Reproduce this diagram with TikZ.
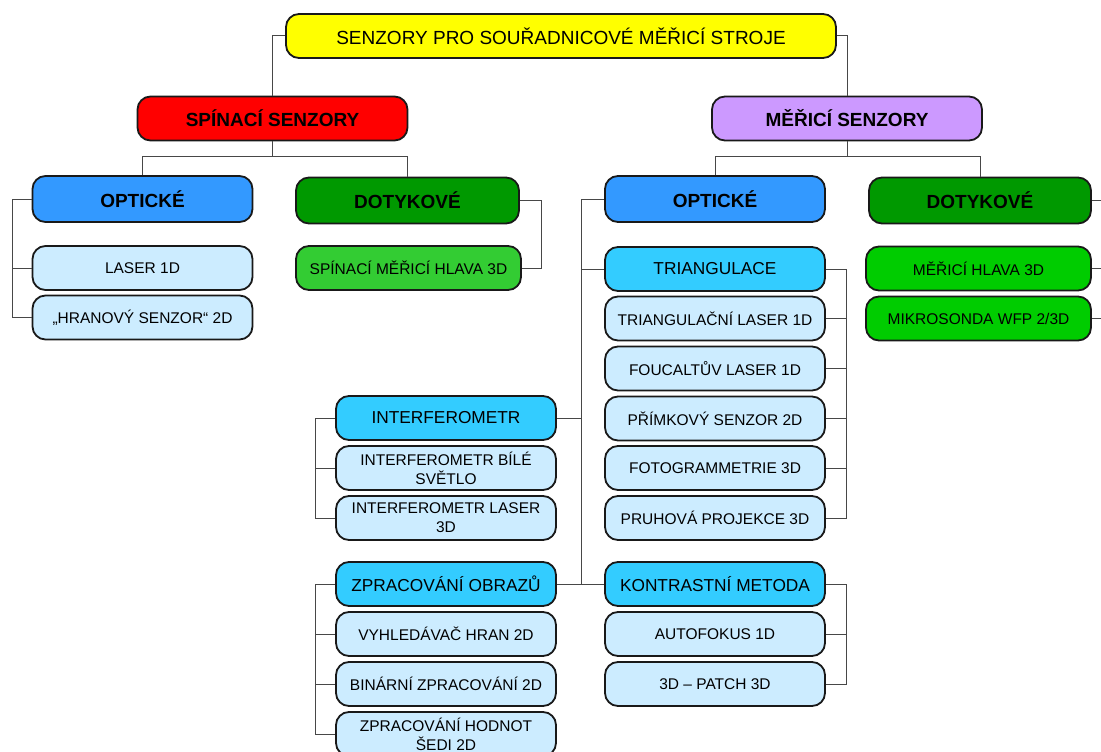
\documentclass[tikz,border=0pt]{standalone}
\usepackage{fontspec}
\setmainfont{Liberation Sans}
\definecolor{cyel}{HTML}{FFFF00}
\definecolor{cred}{HTML}{FF0000}
\definecolor{cpurple}{HTML}{CC99FF}
\definecolor{cblue}{HTML}{3399FF}
\definecolor{cdkgreen}{HTML}{009900}
\definecolor{cmidgreen}{HTML}{33CC33}
\definecolor{cgreen}{HTML}{00CC00}
\definecolor{ccyan}{HTML}{33CCFF}
\definecolor{clight}{HTML}{CCECFF}
\begin{document}
\begin{tikzpicture}[x=1pt,y=-1pt,
  box/.style={draw=black!90, line width=1.8pt, rounded corners=13pt, minimum width=220pt, minimum height=44pt, inner sep=2pt, align=center, text=black},
  lvlzero/.style={box, fill=cyel, minimum width=550pt, font=\fontsize{19}{22}\selectfont},
  lvlone/.style={box, font=\bfseries\fontsize{19}{22}\selectfont, minimum width=270pt},
  lvltwo/.style={box, font=\bfseries\fontsize{19}{22}\selectfont, minimum height=46pt},
  midbox/.style={box, fill=ccyan, font=\fontsize{17.3}{20}\selectfont},
  leafbox/.style={box, fill=clight, font=\fontsize{15.5}{19}\selectfont},
  conn/.style={draw=black!72, line width=1pt}]
\fill[white] (0,0) rectangle (1101,752);
\useasboundingbox (0,0) rectangle (1101,752);

% level 0 and 1
\node[lvlzero] (root) at (561,36) {SENZORY PRO SOUŘADNICOVÉ MĚŘICÍ STROJE};
\node[lvlone, fill=cred, minimum width=270pt] (sp) at (272.5,118.5) {SPÍNACÍ SENZORY};
\node[lvlone, fill=cpurple] (me) at (847,118.5) {MĚŘICÍ SENZORY};

% left branch
\node[lvltwo, fill=cblue] (lopt) at (142.5,199) {OPTICKÉ};
\node[lvltwo, fill=cdkgreen, minimum width=223pt] (ldot) at (407.5,200.5) {DOTYKOVÉ};
\node[leafbox] (laser) at (142.5,268) {LASER 1D};
\node[leafbox] (hran) at (142.5,317.5) {„HRANOVÝ SENZOR“ 2D};
\node[box, fill=cmidgreen, minimum width=225pt, font=\fontsize{15.5}{19}\selectfont] (sphl) at (408.5,268) {SPÍNACÍ MĚŘICÍ HLAVA 3D};

% right branch
\node[lvltwo, fill=cblue] (ropt) at (715,199) {OPTICKÉ};
\node[lvltwo, fill=cdkgreen, minimum width=222pt] (rdot) at (980,200.5) {DOTYKOVÉ};
\node[box, fill=cgreen, minimum width=225pt, font=\fontsize{15.5}{19}\selectfont] (mhl) at (978.5,268.5) {MĚŘICÍ HLAVA 3D};
\node[box, fill=cgreen, minimum width=225pt, font=\fontsize{15.5}{19}\selectfont] (mikro) at (978.5,318.5) {MIKROSONDA WFP 2/3D};

\node[midbox] (tri) at (715,269) {TRIANGULACE};
\node[leafbox] (tl) at (715,318.5) {TRIANGULAČNÍ LASER 1D};
\node[leafbox] (fl) at (715,368.5) {FOUCALTŮV LASER 1D};
\node[leafbox] (pr) at (715,418.5) {PŘÍMKOVÝ SENZOR 2D};
\node[leafbox] (fo) at (715,468) {FOTOGRAMMETRIE 3D};
\node[leafbox] (pp) at (715,518) {PRUHOVÁ PROJEKCE 3D};

\node[midbox] (intf) at (446,418) {INTERFEROMETR};
\node[leafbox] (ibs) at (446,468) {INTERFEROMETR BÍLÉ\\SVĚTLO};
\node[leafbox] (il3) at (446,518) {INTERFEROMETR LASER\\3D};

\node[midbox] (zo) at (446,584) {ZPRACOVÁNÍ OBRAZŮ};
\node[leafbox] (vh) at (446,634) {VYHLEDÁVAČ HRAN 2D};
\node[leafbox] (bz) at (446,684) {BINÁRNÍ ZPRACOVÁNÍ 2D};
\node[leafbox] (zh) at (446,734) {ZPRACOVÁNÍ HODNOT\\ŠEDI 2D};

\node[midbox] (km) at (715,584) {KONTRASTNÍ METODA};
\node[leafbox] (af) at (715,634) {AUTOFOKUS 1D};
\node[leafbox] (pa) at (715,684) {3D – PATCH 3D};

% connectors
\draw[conn] (root.west) -| (sp.north);
\draw[conn] (root.east) -| (me.north);
\draw[conn] (sp.south) -- ++(0,15) coordinate (spbus);
\draw[conn] (lopt.north) |- (spbus) -| (ldot.north);
\draw[conn] (me.south) -- ++(0,15) coordinate (mebus);
\draw[conn] (ropt.north) |- (mebus) -| (rdot.north);

\coordinate (bL) at (12,0);
\draw[conn] (lopt.west) -| (bL |- hran.west) -- (hran.west);
\draw[conn] (laser.west) -- (laser.west -| bL);

\coordinate (bD) at (541,0);
\draw[conn] (ldot.east) -| (bD |- sphl.east) -- (sphl.east);

\coordinate (bO) at (581,0);
\draw[conn] (ropt.west) -| (bO |- km.west) -- (km.west);
\draw[conn] (tri.west) -- (tri.west -| bO);
\draw[conn] (intf.east) -- (intf.east -| bO);
\draw[conn] (zo.east) -- (zo.east -| bO);

\coordinate (bT) at (846,0);
\draw[conn] (tri.east) -| (bT |- pp.east) -- (pp.east);
\foreach \n in {tl,fl,pr,fo} \draw[conn] (\n.east) -- (\n.east -| bT);
\draw[conn] (km.east) -| (bT |- pa.east) -- (pa.east);
\draw[conn] (af.east) -- (af.east -| bT);

\coordinate (bI) at (315,0);
\draw[conn] (intf.west) -| (bI |- il3.west) -- (il3.west);
\draw[conn] (ibs.west) -- (ibs.west -| bI);
\draw[conn] (zo.west) -| (bI |- zh.west) -- (zh.west);
\foreach \n in {vh,bz} \draw[conn] (\n.west) -- (\n.west -| bI);

\coordinate (bR) at (1112,0);
\draw[conn] (rdot.east) -| (bR |- mikro.east) -- (mikro.east);
\draw[conn] (mhl.east) -- (mhl.east -| bR);
\end{tikzpicture}
\end{document}
